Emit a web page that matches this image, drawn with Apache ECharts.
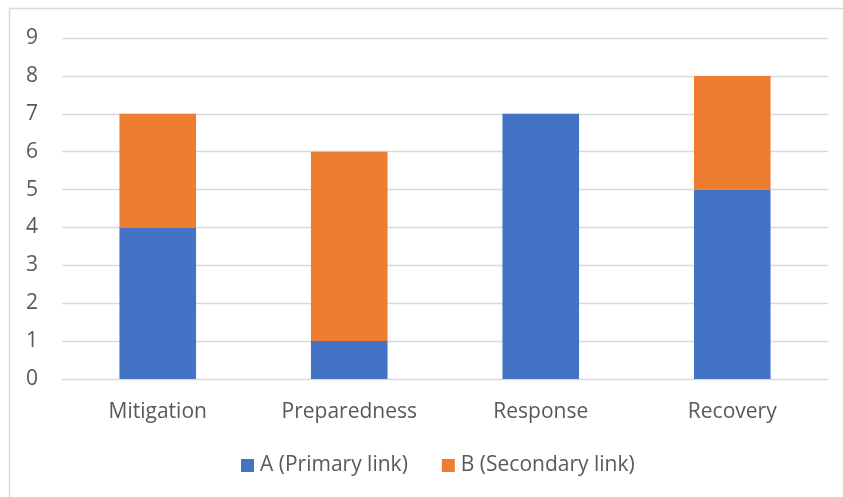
<!DOCTYPE html>
<html>
<head>
<meta charset="utf-8">
<script src="https://cdn.jsdelivr.net/npm/echarts@6/dist/echarts.min.js"></script>
<style>
  html, body { margin: 0; padding: 0; background: #fff; }
  #chart { width: 843px; height: 497px; }
</style>
</head>
<body>
<div id="chart"></div>
<script>
// Phases of the disaster management cycle and the link counts per phase
const categories = ['Mitigation', 'Preparedness', 'Response', 'Recovery'];
const primaryLinks = [4, 1, 7, 5];
const secondaryLinks = [3, 5, 0, 3];
const seriesNames = ['A (Primary link)', 'B (Secondary link)'];

const textColor = '#595959';
const gridColor = '#d9d9d9';
const fontFamily = '"Open Sans", "Noto Sans", sans-serif';

const chart = echarts.init(document.getElementById('chart'), null, { renderer: 'canvas' });

chart.setOption({
  animation: false,
  color: ['#4472C4', '#ED7D31'],
  graphic: [{
    type: 'rect',
    shape: { x: 9.5, y: 8.5, width: 900, height: 600 },
    style: { fill: 'none', stroke: gridColor, lineWidth: 1.5 },
    silent: true
  }],
  grid: { left: 62, right: 15, top: 38, bottom: 118 },
  legend: {
    bottom: 16,
    left: 236,
    itemWidth: 13,
    itemHeight: 13,
    itemGap: 34,
    icon: 'rect',
    textStyle: { color: textColor, fontSize: 21, fontFamily: fontFamily, padding: [0, 0, 0, 1] },
    data: seriesNames
  },
  xAxis: {
    type: 'category',
    data: categories,
    axisLine: { lineStyle: { color: gridColor, width: 1 } },
    axisTick: { show: false },
    axisLabel: { color: textColor, fontSize: 21, fontFamily: fontFamily, margin: 23 }
  },
  yAxis: {
    type: 'value',
    min: 0,
    max: 9,
    interval: 1,
    axisLine: { show: false },
    axisTick: { show: false },
    splitLine: { lineStyle: { color: gridColor, width: 1.3 } },
    axisLabel: { color: textColor, fontSize: 21, fontFamily: fontFamily, margin: 24 }
  },
  series: [
    {
      name: seriesNames[0],
      type: 'bar',
      stack: 'links',
      barWidth: '40%',
      data: primaryLinks
    },
    {
      name: seriesNames[1],
      type: 'bar',
      stack: 'links',
      barWidth: '40%',
      data: secondaryLinks
    }
  ]
});
</script>
</body>
</html>
